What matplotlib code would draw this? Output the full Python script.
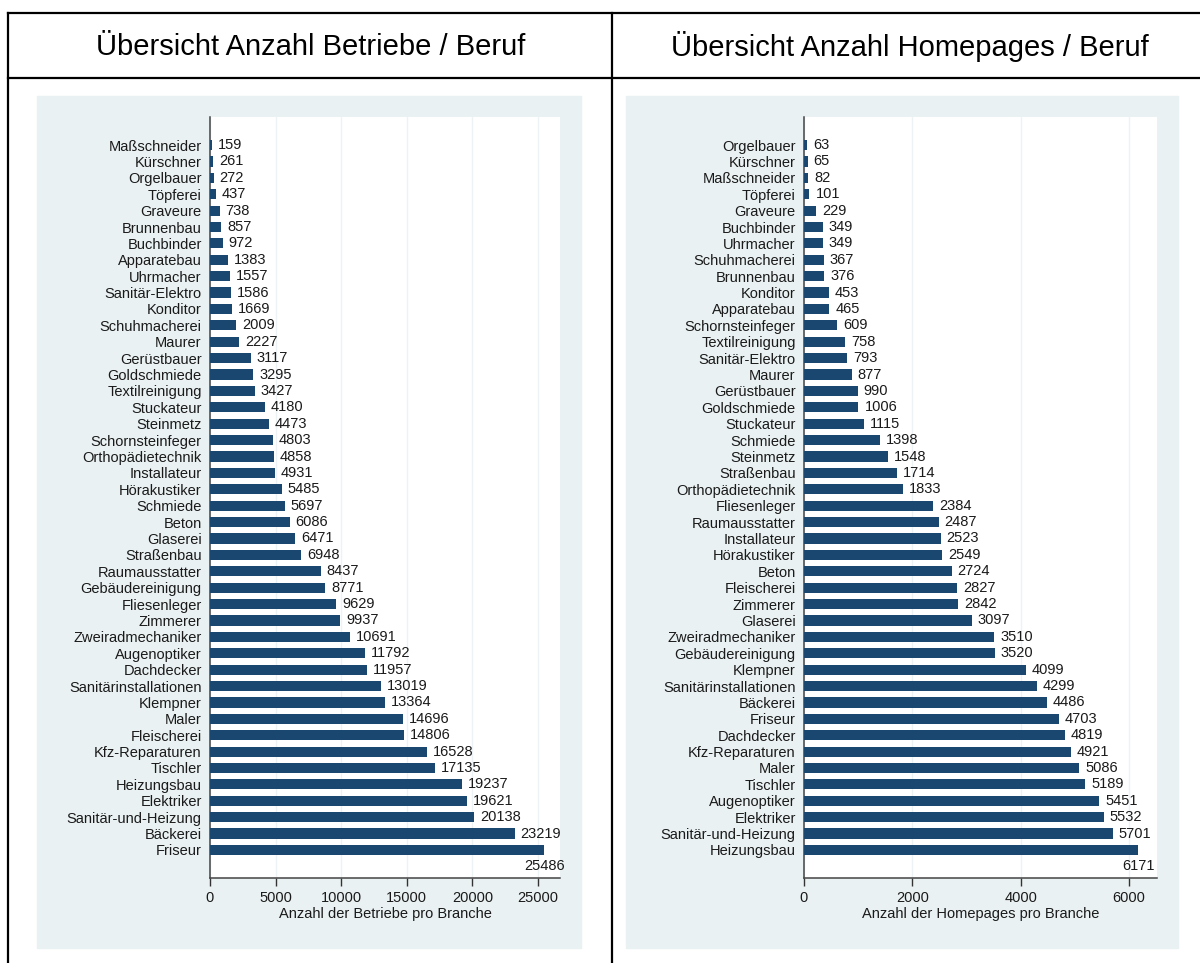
import matplotlib.pyplot as plt
from matplotlib.lines import Line2D
from matplotlib.patches import Rectangle

plt.rcParams['font.family'] = ['Liberation Sans', 'DejaVu Sans']

# Anzahl Betriebe pro Beruf (top to bottom)
betriebe_labels = ['Maßschneider', 'Kürschner', 'Orgelbauer', 'Töpferei', 'Graveure',
                   'Brunnenbau', 'Buchbinder', 'Apparatebau', 'Uhrmacher', 'Sanitär-Elektro',
                   'Konditor', 'Schuhmacherei', 'Maurer', 'Gerüstbauer', 'Goldschmiede',
                   'Textilreinigung', 'Stuckateur', 'Steinmetz', 'Schornsteinfeger',
                   'Orthopädietechnik', 'Installateur', 'Hörakustiker', 'Schmiede', 'Beton',
                   'Glaserei', 'Straßenbau', 'Raumausstatter', 'Gebäudereinigung',
                   'Fliesenleger', 'Zimmerer', 'Zweiradmechaniker', 'Augenoptiker',
                   'Dachdecker', 'Sanitärinstallationen', 'Klempner', 'Maler', 'Fleischerei',
                   'Kfz-Reparaturen', 'Tischler', 'Heizungsbau', 'Elektriker',
                   'Sanitär-und-Heizung', 'Bäckerei', 'Friseur']
betriebe_values = [159, 261, 272, 437, 738, 857, 972, 1383, 1557, 1586, 1669, 2009, 2227,
                   3117, 3295, 3427, 4180, 4473, 4803, 4858, 4931, 5485, 5697, 6086, 6471,
                   6948, 8437, 8771, 9629, 9937, 10691, 11792, 11957, 13019, 13364, 14696,
                   14806, 16528, 17135, 19237, 19621, 20138, 23219, 25486]
betriebe_ticks = [0, 5000, 10000, 15000, 20000, 25000]

# Anzahl Homepages pro Beruf (top to bottom)
homepages_labels = ['Orgelbauer', 'Kürschner', 'Maßschneider', 'Töpferei', 'Graveure',
                    'Buchbinder', 'Uhrmacher', 'Schuhmacherei', 'Brunnenbau', 'Konditor',
                    'Apparatebau', 'Schornsteinfeger', 'Textilreinigung', 'Sanitär-Elektro',
                    'Maurer', 'Gerüstbauer', 'Goldschmiede', 'Stuckateur', 'Schmiede',
                    'Steinmetz', 'Straßenbau', 'Orthopädietechnik', 'Fliesenleger',
                    'Raumausstatter', 'Installateur', 'Hörakustiker', 'Beton', 'Fleischerei',
                    'Zimmerer', 'Glaserei', 'Zweiradmechaniker', 'Gebäudereinigung',
                    'Klempner', 'Sanitärinstallationen', 'Bäckerei', 'Friseur', 'Dachdecker',
                    'Kfz-Reparaturen', 'Maler', 'Tischler', 'Augenoptiker', 'Elektriker',
                    'Sanitär-und-Heizung', 'Heizungsbau']
homepages_values = [63, 65, 82, 101, 229, 349, 349, 367, 376, 453, 465, 609, 758, 793, 877,
                    990, 1006, 1115, 1398, 1548, 1714, 1833, 2384, 2487, 2523, 2549, 2724,
                    2827, 2842, 3097, 3510, 3520, 4099, 4299, 4486, 4703, 4819, 4921, 5086,
                    5189, 5451, 5532, 5701, 6171]
homepages_ticks = [0, 2000, 4000, 6000]

W, H = 1200, 963
BAR = '#1a476f'
BG = '#eaf1f2'
GRID = '#edf3f5'
FS = 10.5


def fx(px):
    return px / W


def fy(py):
    return 1 - py / H


def hbar_chart(fig, rect, labels, values, ticks, xmax, offset, xlabel):
    ax = fig.add_axes(rect)
    ax.set_zorder(2)
    pos = list(range(len(labels)))
    ax.barh(pos, values, height=0.62, color=BAR, zorder=3)
    ax.set_ylim(len(labels) + 0.71, -1.71)
    ax.set_xlim(0, xmax)
    ax.set_yticks(pos)
    ax.set_yticklabels(labels, fontsize=FS, color='#1a1a1a')
    ax.tick_params(axis='y', length=0, pad=6)
    ax.set_xticks(ticks)
    ax.set_xticklabels([str(t) for t in ticks], fontsize=FS, color='#1a1a1a')
    ax.tick_params(axis='x', length=6, width=1, color='#333333', pad=3)
    ax.set_xlabel(xlabel, fontsize=FS, color='#1a1a1a', labelpad=2)
    ax.grid(axis='x', color=GRID, linewidth=1.0, zorder=0)
    for s in ['top', 'right']:
        ax.spines[s].set_visible(False)
    for s in ['left', 'bottom']:
        ax.spines[s].set_color('#444444')
        ax.spines[s].set_linewidth(1.1)
    last = len(values) - 1
    for i, v in enumerate(values):
        if i == last:
            ax.text(v, i + 1, str(v), ha='center', va='center', fontsize=FS, color='#1a1a1a')
        else:
            ax.text(v + offset, i, str(v), ha='left', va='center', fontsize=FS, color='#1a1a1a')
    return ax


fig = plt.figure(figsize=(12, 9.63), dpi=100)

# grey-blue graph regions
fig.patches.append(Rectangle((fx(37), fy(948)), fx(581) - fx(37), fy(96) - fy(948),
                             transform=fig.transFigure, color=BG, zorder=0))
fig.patches.append(Rectangle((fx(626), fy(948)), fx(1178) - fx(626), fy(96) - fy(948),
                             transform=fig.transFigure, color=BG, zorder=0))

hbar_chart(fig, [fx(210), fy(878), fx(560) - fx(210), fy(117) - fy(878)],
           betriebe_labels, betriebe_values, betriebe_ticks, 26680, 450,
           'Anzahl der Betriebe pro Branche')
hbar_chart(fig, [fx(804), fy(878), fx(1157) - fx(804), fy(117) - fy(878)],
           homepages_labels, homepages_values, homepages_ticks, 6517, 110,
           'Anzahl der Homepages pro Branche')

# table frame
lw = 1.6
fig.lines.append(Line2D([fx(8), 1], [fy(13), fy(13)], color='black', lw=lw, transform=fig.transFigure))
fig.lines.append(Line2D([fx(8), 1], [fy(78), fy(78)], color='black', lw=lw, transform=fig.transFigure))
fig.lines.append(Line2D([fx(8), fx(8)], [fy(13), 0], color='black', lw=lw, transform=fig.transFigure))
fig.lines.append(Line2D([fx(612), fx(612)], [fy(13), 0], color='black', lw=lw, transform=fig.transFigure))

fig.text(fx(311), fy(47), 'Übersicht Anzahl Betriebe / Beruf', ha='center', va='center', fontsize=21)
fig.text(fx(910), fy(47), 'Übersicht Anzahl Homepages / Beruf', ha='center', va='center', fontsize=21)

fig.savefig('out.png', dpi=100, facecolor='white')
